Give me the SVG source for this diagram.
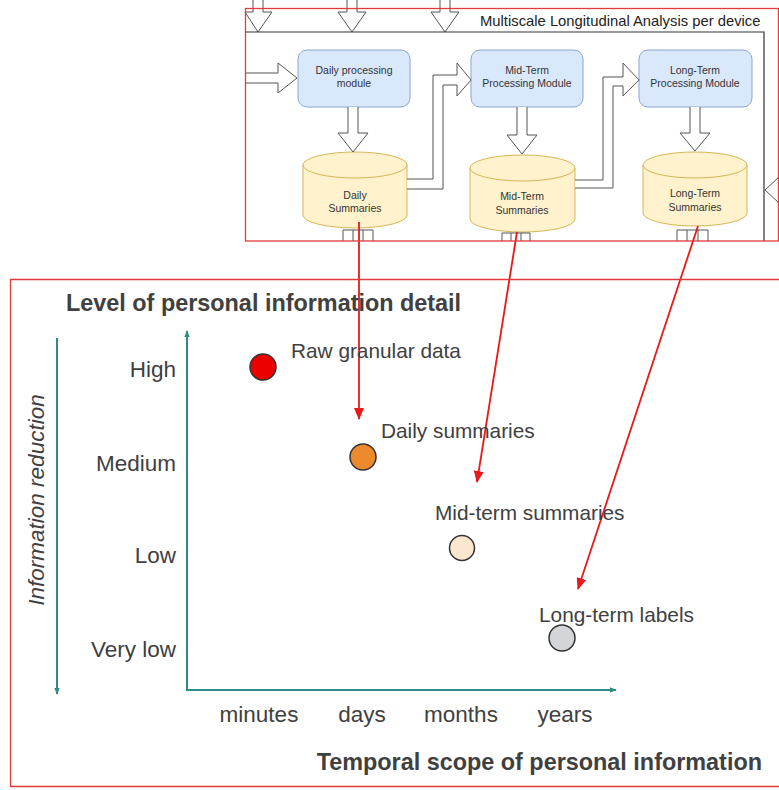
<svg xmlns="http://www.w3.org/2000/svg" width="779" height="790" viewBox="0 0 779 790">
<style>
  .blk{fill:#fff;stroke:#555;stroke-width:1}
  .box{fill:#dae8fc;stroke:#8aa6cf;stroke-width:1}
  .cyl{fill:#fff2cc;stroke:#d6b656;stroke-width:1}
  .small{font-family:"Liberation Sans",Arial,sans-serif;font-size:10.5px;fill:#333;text-anchor:middle}
  .hdr{font-family:"Liberation Sans",Arial,sans-serif;font-size:14.8px;fill:#222}
  .ttl{font-family:"Liberation Sans",Arial,sans-serif;font-size:23.4px;font-weight:bold;fill:#404040}
  .ax{font-family:"Liberation Sans",Arial,sans-serif;font-size:22.5px;fill:#404040}
  .lbl{font-family:"Liberation Sans",Arial,sans-serif;font-size:20.8px;fill:#404040}
  .teal{stroke:#2e8b88;stroke-width:2;fill:none}
  .red{stroke:#e8181b;stroke-width:1.8;fill:none}
  .dot{stroke:#333;stroke-width:1.5}
</style>
<defs>
  <marker id="ra" viewBox="0 0 12 10" refX="11" refY="5" markerWidth="12" markerHeight="10" markerUnits="userSpaceOnUse" orient="auto">
    <path d="M0,0 L12,5 L0,10 Z" fill="#e8181b"/>
  </marker>
  <marker id="ta" viewBox="0 0 10 10" refX="9" refY="5" markerWidth="7" markerHeight="7" markerUnits="userSpaceOnUse" orient="auto">
    <path d="M0,1 L10,5 L0,9 Z" fill="#2e8b88"/>
  </marker>
</defs>

<g id="top-panel">
  <path class="blk" d="M253,0 V12 H245 L258,32 L272,12 H263 V0"/>
  <path class="blk" d="M347,0 V12 H338 L352,32 L366,12 H357 V0"/>
  <path class="blk" d="M440,0 V12 H431 L445,32 L459,12 H450 V0"/>
  <path d="M245,32 H764 V241" fill="none" stroke="#333" stroke-width="1.2"/>
  <text class="hdr" x="480" y="26">Multiscale Longitudinal Analysis per device</text>
  <path class="blk" d="M246,73 H278 V63 L297,78 L278,93 V83 H246"/>
  <path d="M779,177 L765,190 L779,203" fill="none" stroke="#555" stroke-width="1"/>
</g>

<g id="daily-module">
  <rect class="box" x="298" y="50" width="112" height="57" rx="9"/>
  <text class="small" x="354" y="74">Daily processing</text>
  <text class="small" x="354" y="87">module</text>
</g>
<g id="midterm-module">
  <rect class="box" x="471" y="50" width="112" height="57" rx="9"/>
  <text class="small" x="527" y="74">Mid-Term</text>
  <text class="small" x="527" y="87">Processing Module</text>
</g>
<g id="longterm-module">
  <rect class="box" x="639" y="50" width="113" height="57" rx="9"/>
  <text class="small" x="695" y="74">Long-Term</text>
  <text class="small" x="695" y="87">Processing Module</text>
</g>

<g id="daily-summaries">
  <path class="cyl" d="M303,165 A52,13 0 0 1 407,165 V215 A52,13 0 0 1 303,215 Z"/>
  <path class="cyl" d="M303,165 A52,13 0 0 0 407,165" fill="none"/>
  <text class="small" x="355" y="199">Daily</text>
  <text class="small" x="355" y="212">Summaries</text>
</g>
<g id="midterm-summaries">
  <path class="cyl" d="M470,168 A52.5,13 0 0 1 575,168 V219 A52.5,13 0 0 1 470,219 Z"/>
  <path class="cyl" d="M470,168 A52.5,13 0 0 0 575,168" fill="none"/>
  <text class="small" x="522" y="200">Mid-Term</text>
  <text class="small" x="522" y="214">Summaries</text>
</g>
<g id="longterm-summaries">
  <path class="cyl" d="M643,165 A52,13 0 0 1 747,165 V213 A52,13 0 0 1 643,213 Z"/>
  <path class="cyl" d="M643,165 A52,13 0 0 0 747,165" fill="none"/>
  <text class="small" x="695" y="197">Long-Term</text>
  <text class="small" x="695" y="211">Summaries</text>
</g>

<g id="connectors">
  <path class="blk" d="M348,107 V133 H338 L353,152 L368,133 H358 V107"/>
  <path class="blk" d="M517,107 V135 H507 L522,154 L537,135 H527 V107"/>
  <path class="blk" d="M690,107 V133 H680 L695,151 L710,133 H700 V107"/>
  <path class="blk" d="M407,179 H433 V75 H457 V63 L471,80 L457,96 V85 H443 V189 H407"/>
  <path class="blk" d="M575,180 H603 V77 H623 V63 L639,80 L623,96 V86 H613 V188 H575"/>
  <path d="M343,241 V230 H373 V241 M353,230 V241 M363,230 V241" fill="none" stroke="#555" stroke-width="1"/>
  <path d="M502,241 V233 H530 V241 M511,233 V241 M521,233 V241" fill="none" stroke="#555" stroke-width="1"/>
  <path d="M677,241 V230 H708 V241 M687,230 V241 M698,230 V241" fill="none" stroke="#555" stroke-width="1"/>
  <path class="red" d="M359,222 V419" marker-end="url(#ra)"/>
  <path class="red" d="M517,232 L477,482" marker-end="url(#ra)"/>
  <path class="red" d="M698,226 L578,589" marker-end="url(#ra)"/>
</g>

<g id="frames">
  <rect x="245.5" y="8.5" width="533" height="232.5" fill="none" stroke="#e03a3a" stroke-width="1.3"/>
  <path d="M779,279.5 H10.5 V786.5 H779" fill="none" stroke="#e03a3a" stroke-width="1.3"/>
</g>

<g id="chart">
  <text class="ttl" x="66" y="311">Level of personal information detail</text>
  <path class="teal" d="M57,338 V694" marker-end="url(#ta)"/>
  <text class="ax" font-style="italic" transform="translate(44,500) rotate(-90)" text-anchor="middle">Information reduction</text>
  <path class="teal" d="M187,690 V331" marker-end="url(#ta)"/>
  <path class="teal" d="M186,690 H616" marker-end="url(#ta)"/>
  <text class="ax" x="176" y="377" text-anchor="end">High</text>
  <text class="ax" x="176" y="471" text-anchor="end">Medium</text>
  <text class="ax" x="176" y="563" text-anchor="end">Low</text>
  <text class="ax" x="176" y="657" text-anchor="end">Very low</text>
  <text class="ax" x="259" y="722" text-anchor="middle">minutes</text>
  <text class="ax" x="362" y="722" text-anchor="middle">days</text>
  <text class="ax" x="461" y="722" text-anchor="middle">months</text>
  <text class="ax" x="565" y="722" text-anchor="middle">years</text>
  <text class="ttl" x="762" y="770" text-anchor="end">Temporal scope of personal information</text>
</g>

<g id="raw-data">
  <circle class="dot" cx="263" cy="367" r="13" fill="#ee0000"/>
  <text class="lbl" x="291" y="358">Raw granular data</text>
</g>
<g id="daily-point">
  <circle class="dot" cx="363" cy="457" r="13" fill="#ee8a2e"/>
  <text class="lbl" x="381" y="438">Daily summaries</text>
</g>
<g id="midterm-point">
  <circle class="dot" cx="462" cy="548" r="12.5" fill="#fbe6cf"/>
  <text class="lbl" x="435" y="520">Mid-term summaries</text>
</g>
<g id="longterm-point">
  <circle class="dot" cx="562" cy="638" r="13" fill="#d3d5d8"/>
  <text class="lbl" x="539" y="622">Long-term labels</text>
</g>
</svg>
